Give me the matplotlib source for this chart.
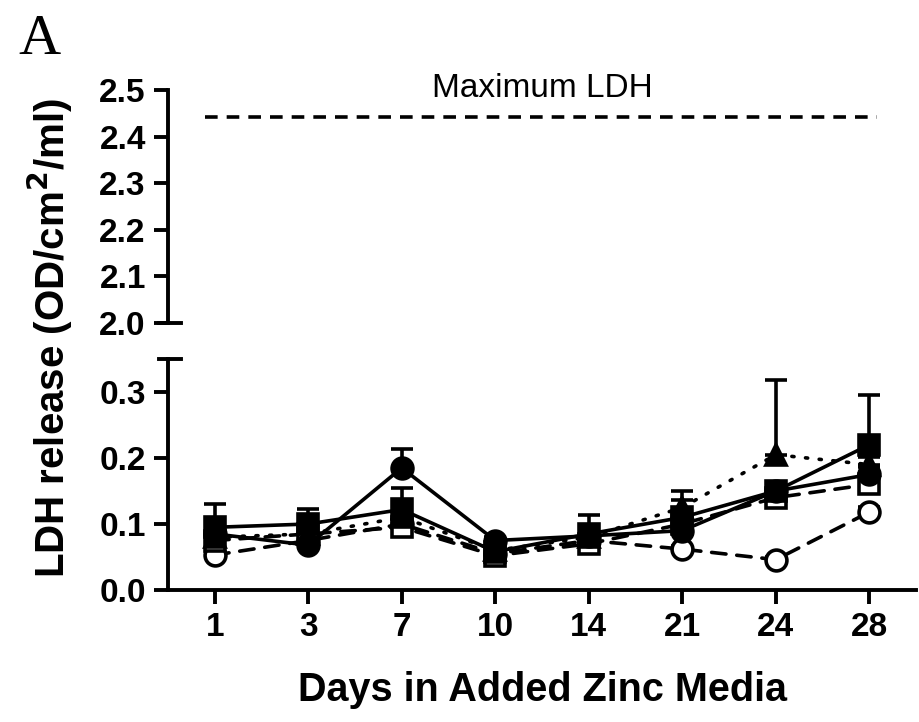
import numpy as np
import matplotlib
matplotlib.use("Agg")
import matplotlib.pyplot as plt

plt.rcParams['font.family'] = ['Liberation Sans', 'DejaVu Sans']

# data
days = ["1", "3", "7", "10", "14", "21", "24", "28"]
max_ldh = 2.442

sq_solid = [0.095, 0.100, 0.122, 0.058, 0.085, 0.110, 0.150, 0.220]
sq_solid_err = [0.035, 0.022, 0.032, 0.012, 0.028, 0.040, 0.012, 0.075]
ci_solid = [0.085, 0.068, 0.185, 0.075, 0.082, 0.090, 0.150, 0.175]
ci_solid_err = [0.010, 0.010, 0.029, 0.006, 0.010, 0.012, 0.010, 0.012]
tr_dot = [0.080, 0.085, 0.110, 0.060, 0.080, 0.125, 0.205, 0.190]
tr_dot_err = [0.012, 0.012, 0.015, 0.008, 0.012, 0.012, 0.113, 0.012]
sq_dash = [0.075, 0.085, 0.095, 0.052, 0.070, 0.100, 0.140, 0.160]
sq_dash_err = [0.010, 0.010, 0.012, 0.008, 0.010, 0.010, 0.010, 0.012]
ci_dash = [0.053, 0.075, 0.100, 0.055, 0.075, 0.062, 0.046, 0.118]
ci_dash_err = [0.005, 0.005, 0.008, 0.005, 0.005, 0.005, 0.004, 0.008]

x = np.arange(len(days))

fig = plt.figure(figsize=(9.19, 7.22), dpi=100)
ax_top = fig.add_axes([0.1828, 0.5526, 0.814, 0.3227])
ax = fig.add_axes([0.1828, 0.1828, 0.814, 0.32])

lw = 2.6
spine_w = 2.8


def series(y, err, marker, ls, filled):
    y = np.asarray(y)
    err = np.asarray(err)
    ax.errorbar(x, y, yerr=[np.zeros_like(err), err], fmt='none', ecolor='black',
                elinewidth=lw, capsize=8, capthick=lw, zorder=3)
    ax.plot(x, y, color='black', ls=ls, lw=lw, marker=marker, markersize=15,
            markerfacecolor='black' if filled else 'white', markeredgecolor='black',
            markeredgewidth=lw, zorder=4 if not filled else 5, dash_capstyle='round')


series(ci_dash, ci_dash_err, 'o', (0, (4, 3)), False)
series(sq_dash, sq_dash_err, 's', (0, (4, 3)), False)
series(tr_dot, tr_dot_err, '^', (0, (0.6, 3.2)), True)
series(ci_solid, ci_solid_err, 'o', '-', True)
series(sq_solid, sq_solid_err, 's', '-', True)

ax.set_xlim(-0.5, 7.5)
ax.set_ylim(0, 0.35)
ax.set_yticks([0.0, 0.1, 0.2, 0.3])
ax.set_yticklabels(["0.0", "0.1", "0.2", "0.3"])
ax.set_xticks(x)
ax.set_xticklabels(days)
for s in ['top', 'right']:
    ax.spines[s].set_visible(False)
for s in ['left', 'bottom']:
    ax.spines[s].set_linewidth(spine_w)
ax.tick_params(width=spine_w, length=10, labelsize=24, pad=6)
for lab in ax.get_xticklabels() + ax.get_yticklabels():
    lab.set_fontweight('bold')
ax.set_xlabel("Days in Added Zinc Media", fontsize=28.5, fontweight='bold', labelpad=20)

# top panel
ax_top.plot([-0.1, 7.08], [max_ldh, max_ldh], color='black', lw=lw, ls=(0, (3.5, 2.5)))
ax_top.text(3.5, 2.47, "Maximum LDH", ha='center', va='bottom', fontsize=24)
ax_top.set_xlim(-0.5, 7.5)
ax_top.set_ylim(2.0, 2.5)
ax_top.set_yticks([2.0, 2.1, 2.2, 2.3, 2.4, 2.5])
ax_top.set_yticklabels(["2.0", "2.1", "2.2", "2.3", "2.4", "2.5"])
ax_top.set_xticks([])
for s in ['top', 'right', 'bottom']:
    ax_top.spines[s].set_visible(False)
ax_top.spines['left'].set_linewidth(spine_w)
ax_top.tick_params(width=spine_w, length=10, labelsize=24, pad=6)
for lab in ax_top.get_yticklabels():
    lab.set_fontweight('bold')

# break marks
ax_top.plot([-0.012, 0.018], [0, 0], transform=ax_top.transAxes, color='black',
            lw=spine_w, clip_on=False)
ax.plot([-0.012, 0.018], [1, 1], transform=ax.transAxes, color='black',
        lw=spine_w, clip_on=False)

fig.text(50 / 919, 1 - 338 / 722, "LDH release (OD/cm$^\\mathbf{2}$/ml)", rotation=90,
         ha='center', va='center', fontsize=29, fontweight='bold')
fig.text(18 / 919, 1 - 40 / 722, "A", fontsize=42, family='Liberation Serif',
         ha='left', va='center')

fig.savefig("out.png", dpi=100)
